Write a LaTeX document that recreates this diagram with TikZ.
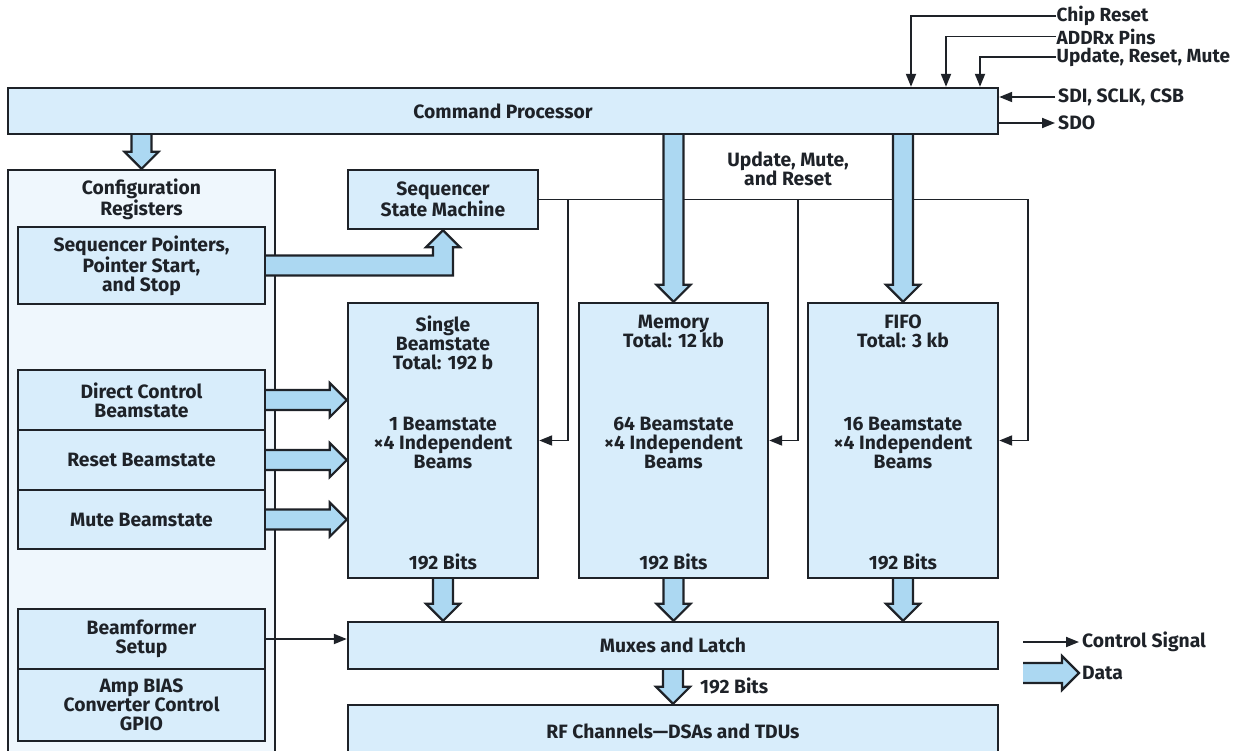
\documentclass[tikz,border=0pt]{standalone}
\usepackage{fontspec}
\setmainfont{Fira Sans}
\usetikzlibrary{calc,arrows.meta}
\definecolor{boxfill}{RGB}{216,237,251}
\definecolor{cfgfill}{RGB}{239,247,253}
\definecolor{arrfill}{RGB}{172,216,242}
\definecolor{ink}{RGB}{30,34,40}
\pgfdeclarelayer{bg}
\pgfdeclarelayer{mid}
\pgfsetlayers{bg,mid,main}
\newcommand\dataarrow[2]{%
  \path (#1) coordinate (da-s) (#2) coordinate (da-e) ($(da-e)!17pt!(da-s)$) coordinate (da-h);
  \fill[arrfill] ($(da-s)!10pt!90:(da-e)$) -- ($(da-h)!10pt!-90:(da-s)$) -- ($(da-h)!17pt!-90:(da-s)$) -- (da-e) -- ($(da-h)!17pt!90:(da-s)$) -- ($(da-h)!10pt!90:(da-s)$) -- ($(da-s)!10pt!-90:(da-e)$) -- cycle;
  \draw[dataline] ($(da-s)!10pt!90:(da-e)$) -- ($(da-h)!10pt!-90:(da-s)$) -- ($(da-h)!17pt!-90:(da-s)$) -- (da-e) -- ($(da-h)!17pt!90:(da-s)$) -- ($(da-h)!10pt!90:(da-s)$) -- ($(da-s)!10pt!-90:(da-e)$);
}
\tikzset{
  every node/.style={font=\bfseries\fontsize{19.3}{19}\selectfont, align=center, text=ink},
  blk/.style={draw=ink, line width=2.4pt, fill=boxfill, inner sep=0pt},
  lbl/.style={inner sep=3pt},
  toplbl/.style={inner sep=0.5pt, anchor=west, font=\bfseries\fontsize{19}{19}\selectfont},
  ctl/.style={draw=ink, line width=1.9pt, -{Triangle[length=13pt,width=10pt]}},
  dataline/.style={draw=ink, line width=2.2pt, line join=miter},
}
\begin{document}
\begin{tikzpicture}[x=1pt,y=-1pt]
\useasboundingbox (0,0) rectangle (1246,750);
% boxes
\node[blk, minimum width=990pt, minimum height=46pt] (cp) at (503,111) {Command Processor};
\begin{pgfonlayer}{bg}
\node[draw=ink, line width=2.4pt, fill=cfgfill, minimum width=267pt, minimum height=600pt, inner sep=0pt] (cfg) at (141.5,470) {};
\end{pgfonlayer}
\node[lbl] (cfgt) at (141.5,199) {Configuration\\Registers};
\node[blk, minimum width=247pt, minimum height=77pt] (sp) at (141.5,265.5) {Sequencer Pointers,\\Pointer Start,\\and Stop};
\node[blk, minimum width=247pt, minimum height=60pt] (dcb) at (141.5,400) {Direct Control\\Beamstate};
\node[blk, minimum width=247pt, minimum height=60pt] (rb) at (141.5,460) {Reset Beamstate};
\node[blk, minimum width=247pt, minimum height=59pt] (mb) at (141.5,519.5) {Mute Beamstate};
\node[blk, minimum width=247pt, minimum height=60pt] (bfs) at (141.5,639) {Beamformer\\Setup};
\node[blk, minimum width=247pt, minimum height=72pt] (amp) at (141.5,705) {Amp BIAS\\Converter Control\\GPIO};
\node[blk, minimum width=190pt, minimum height=59pt] (ssm) at (443,199.5) {Sequencer\\State Machine};
\node[blk, minimum width=190pt, minimum height=275pt] (sb) at (443,440.5) {};
\node[blk, minimum width=189pt, minimum height=275pt] (mem) at (673.5,440.5) {};
\node[blk, minimum width=190pt, minimum height=275pt] (fifo) at (903,440.5) {};
\node[blk, minimum width=650pt, minimum height=47pt] (mux) at (673,645.5) {Muxes and Latch};
\node[blk, minimum width=650pt, minimum height=52pt] (rf) at (673,731) {RF Channels—DSAs and TDUs};
% texts in memory boxes
\node[lbl, anchor=north] (sbt) at ($(sb.north)+(0,11)$) {Single\\Beamstate\\Total: 192 b};
\node[lbl] (sbm) at (443,443) {1 Beamstate\\×4 Independent\\Beams};
\node[lbl] (sbb) at (443,562) {192 Bits};
\node[lbl, anchor=north] (memt) at ($(mem.north)+(0,10)$) {Memory\\Total: 12 kb};
\node[lbl] (memm) at (673.5,443) {64 Beamstate\\×4 Independent\\Beams};
\node[lbl] (memb) at (673.5,562) {192 Bits};
\node[lbl, anchor=north] (fifot) at ($(fifo.north)+(0,10)$) {FIFO\\Total: 3 kb};
\node[lbl] (fifom) at (903,443) {16 Beamstate\\×4 Independent\\Beams};
\node[lbl] (fifob) at (903,562) {192 Bits};
% external labels
\node[toplbl] (chip) at (1056,16) {Chip Reset};
\node[toplbl] (addr) at (1056,36.5) {ADDRx Pins};
\node[toplbl] (urm) at (1056,57) {Update, Reset, Mute};
\node[lbl, anchor=west] (sdi) at (1055,97) {SDI, SCLK, CSB};
\node[lbl, anchor=west] (sdo) at (1055,123) {SDO};
\node[lbl] (umr) at (788,169) {Update, Mute,\\and Reset};
\node[lbl, anchor=west] (bits) at (697,686) {192 Bits};
\node[lbl, anchor=west] (lctl) at (1079,642) {Control Signal};
\node[lbl, anchor=west] (ldat) at (1079,673) {Data};
\coordinate (t1) at (911,0);
\coordinate (t2) at (946,0);
\coordinate (t3) at (980,0);
\coordinate (j1) at (568,199.5);
\coordinate (j2) at (798,199.5);
\coordinate (j3) at (1028,199.5);
\coordinate (lc0) at (1023,642);
\coordinate (ld0) at (1023,673);
\begin{pgfonlayer}{mid}
% control lines
\draw[ctl] (chip.west) -| (t1 |- cp.north);
\draw[ctl] (addr.west) -| (t2 |- cp.north);
\draw[ctl] (urm.west) -| (t3 |- cp.north);
\draw[ctl] (sdi.west) -- (sdi.west -| cp.east);
\draw[ctl] (sdo.west -| cp.east) -- (sdo.west);
\draw[ctl] (ssm.east) -- (j3) |- (fifo.east);
\draw[ctl] (j1) |- (sb.east);
\draw[ctl] (j2) |- (mem.east);
\draw[ctl] (bfs.east) -- (bfs.east -| mux.west);
\draw[ctl] (lc0) -- (lctl.west);
% data arrows
\dataarrow{cfg.north |- cp.south}{cfg.north}
\dataarrow{mem.north |- cp.south}{mem.north}
\dataarrow{fifo.north |- cp.south}{fifo.north}
\dataarrow{dcb.east}{dcb.east -| sb.west}
\dataarrow{rb.east}{rb.east -| sb.west}
\dataarrow{mb.east}{mb.east -| sb.west}
\dataarrow{sb.south}{sb.south |- mux.north}
\dataarrow{mem.south}{mem.south |- mux.north}
\dataarrow{fifo.south}{fifo.south |- mux.north}
\dataarrow{mux.south}{mux.south |- rf.north}
\dataarrow{ld0}{ldat.west}
% L-shaped arrow from sequencer pointers to state machine
\fill[arrfill] ($(sp.east)+(0,-10)$) -- ($(ssm.south |- sp.east)+(-10,-10)$) -- ($(ssm.south)+(-10,17)$) -- ($(ssm.south)+(-17,17)$) -- (ssm.south) -- ($(ssm.south)+(17,17)$) -- ($(ssm.south)+(10,17)$) -- ($(ssm.south |- sp.east)+(10,10)$) -- ($(sp.east)+(0,10)$) -- cycle;
\draw[dataline] ($(sp.east)+(0,-10)$) -- ($(ssm.south |- sp.east)+(-10,-10)$) -- ($(ssm.south)+(-10,17)$) -- ($(ssm.south)+(-17,17)$) -- (ssm.south) -- ($(ssm.south)+(17,17)$) -- ($(ssm.south)+(10,17)$) -- ($(ssm.south |- sp.east)+(10,10)$) -- ($(sp.east)+(0,10)$);
\end{pgfonlayer}
\end{tikzpicture}
\end{document}
